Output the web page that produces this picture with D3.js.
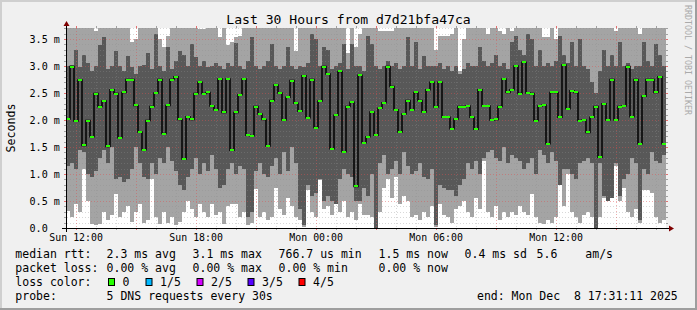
<!DOCTYPE html>
<html>
<head>
<meta charset="utf-8">
<script src="https://cdn.jsdelivr.net/npm/d3@7"></script>
<style>
html, body { margin: 0; padding: 0; background: #f0f0f0; }
svg { display: block; }
text { font-family: "DejaVu Sans Mono", monospace; white-space: pre; fill: #000; }
</style>
</head>
<body>
<svg id="chart" width="697" height="310"></svg>
<script>
// one entry per 12 minute column, values in ms
var medianRtt = [
  2.02, 2.99, 1.98, 2.74, 1.53, 1.99, 1.69, 2.49, 2.25, 2.35,
  1.51, 2.56, 2.49, 1.67, 2.51, 2.75, 2.75, 2.27, 1.78, 1.45,
  1.99, 2.25, 2.50, 2.75, 1.75, 2.27, 2.75, 2.80, 2.01, 1.28,
  2.06, 2.01, 2.49, 2.70, 2.49, 2.51, 2.26, 2.19,
  2.76, 2.14, 2.76, 1.44, 2.14, 2.47, 2.76, 1.72, 1.71, 2.25,
  2.11, 2.01, 1.52, 2.36, 2.65, 2.50, 2.00, 2.42, 2.73, 2.31,
  2.16, 2.82, 2.04, 2.75, 1.86, 2.35, 2.99, 2.85, 1.47, 2.09,
  2.90, 1.41, 2.25, 2.33, 0.77, 2.83, 1.58,
  1.69, 2.15, 1.72, 2.22, 2.32, 2.99, 2.62, 2.19, 1.78, 2.11,
  2.36, 2.19, 2.51, 2.36, 2.15, 2.56, 2.70, 2.24, 2.70, 2.05,
  2.05, 1.84, 2.02, 2.25, 2.25, 2.26, 2.05, 1.83, 2.56, 2.26,
  2.26, 2.00, 2.01, 2.25, 2.76, 2.51, 2.56, 3.00,
  2.49, 3.07, 2.50, 2.49, 1.99, 2.26, 2.28, 1.56, 2.51, 2.51,
  2.05, 3.02, 2.21, 2.54, 2.51, 1.99, 2.00, 1.77, 2.05, 2.25,
  1.31, 2.30, 2.00, 2.75, 2.00, 2.25, 2.26, 2.99, 2.06, 2.75,
  1.56, 2.44, 2.75, 2.75, 2.51, 2.80, 1.56
];
// smallest ping of the 5
var pingMin = [
  0.32, 0.2, 0.45, 0.3, 1.1, 0.5, 0.07, 0.05, 0.08, 0.3,
  0.15, 0.25, 0.63, 0.2, 0.3, 0.4, 0.12, 0.3, 0.45, 0.1,
  0.15, 0.9, 0.2, 0.08, 0.3, 0.1, 0.2, 0.05, 0.12, 0.3,
  0.5, 0.35, 0.2, 0.45, 0.3, 0.2, 0.45, 0.25,
  0.3, 0.07, 0.4, 0.45, 0.45, 0.2, 0.3, 0.05, 0.1, 0.72,
  0.2, 0.3, 0.15, 0.2, 0.75, 0.35, 0.25, 0.55, 0.4, 0.2,
  0.15, 0.02, 0.7, 0.3, 0.2, 0.88, 0.35, 0.4, 0.25, 0.45,
  0.3, 0.5, 0.2, 0.3, 0.15, 0.45, 0.25,
  0.25, 0.2, 0.0, 0.3, 0.75, 0.9, 0.55, 0.95, 0.45, 0.6,
  0.5, 0.2, 0.25, 0.15, 0.3, 0.2, 0.4, 0.02, 0.45, 0.25,
  0.2, 0.1, 0.35, 0.4, 0.5, 0.3, 0.2, 0.55, 0.35, 1.25,
  0.3, 0.2, 0.4, 0.15, 0.3, 0.2, 0.3, 0.25,
  0.4, 0.3, 0.25, 0.63, 0.2, 0.1, 0.07, 0.15, 0.1, 0.2,
  0.8, 0.4, 1.0, 0.3, 0.2, 0.1, 0.25, 0.3, 0.2, 0.0,
  0.2, 0.55, 0.5, 0.55, 1.15, 0.5, 0.75, 0.3, 0.2, 0.35,
  0.1, 0.7, 0.7, 0.65, 0.2, 0.1, 0.15
];
// second ping
var pingLow = [
  1.15, 1.2, 1.1, 1.45, 1.4, 1.0, 0.95, 1.05, 1.3, 1.45,
  1.2, 1.5, 0.9, 0.95, 0.85, 0.9, 1.1, 1.5, 1.2, 0.95,
  0.9, 1.2, 1.0, 1.3, 1.2, 1.5, 1.25, 1.05, 0.8, 0.7,
  0.95, 1.1, 1.3, 1.0, 1.2, 1.05, 1.35, 1.1,
  0.75, 0.8, 1.1, 1.2, 1.0, 1.15, 1.1, 0.2, 0.3, 1.05,
  1.2, 1.0, 0.95, 1.15, 1.3, 1.0, 1.4, 1.05, 1.5, 1.2,
  0.35, 0.05, 0.8, 0.6, 0.65, 0.9, 0.5, 0.6, 0.5, 0.45,
  0.9, 1.1, 1.0, 0.95, 0.5, 0.5, 0.75,
  0.6, 1.0, 0.0, 1.2, 1.35, 1.0, 1.1, 1.25, 1.0, 1.4,
  1.15, 1.0, 1.05, 1.2, 0.95, 0.9, 1.1, 0.05, 0.8, 0.75,
  0.7, 0.7, 0.6, 0.8, 0.9, 1.2, 1.1, 1.25, 1.0, 1.3,
  1.4, 1.45, 1.3, 1.25, 1.5, 1.2, 1.35, 1.3,
  1.25, 1.1, 1.2, 1.3, 1.0, 1.45, 1.35, 1.2, 1.4, 1.25,
  0.8, 1.1, 1.1, 1.0, 0.9, 1.2, 1.25, 1.3, 1.2, 0.0,
  1.2, 0.6, 0.5, 0.55, 1.2, 0.6, 0.9, 1.0, 1.3, 1.2,
  0.15, 1.1, 1.0, 1.4, 1.25, 1.2, 1.35
];
// fourth ping
var pingHigh = [
  3.0, 3.02, 3.3, 2.98, 3.2, 3.05, 2.9, 3.0, 3.38, 3.53,
  2.95, 3.0, 3.28, 3.0, 2.9, 3.19, 2.98, 2.85, 3.0, 3.02,
  3.25, 2.95, 3.59, 3.0, 2.9, 3.35, 2.95, 3.1, 3.28, 3.2,
  3.0, 3.4, 3.16, 3.0, 3.1, 2.98, 3.0, 3.05,
  3.0, 2.95, 3.05, 3.0, 3.43, 3.0, 2.95, 3.1, 3.53, 3.0,
  2.95, 3.0, 3.1, 3.4, 3.0, 2.95, 3.0, 3.35, 3.0, 2.95,
  3.0, 2.98, 3.05, 3.6, 3.5, 3.0, 3.35, 3.3, 2.95, 3.0,
  3.05, 3.4, 2.95, 3.4, 3.0, 3.0, 2.9,
  3.55, 3.4, 3.0, 2.95, 3.0, 3.1, 3.0, 3.05, 2.95, 3.0,
  3.53, 3.0, 3.45, 2.95, 3.19, 3.0, 3.0, 3.0, 3.05, 2.95,
  3.0, 2.9, 3.0, 2.85, 2.95, 3.05, 3.0, 3.0, 3.35, 3.1,
  3.0, 3.05, 3.2, 3.0, 3.05, 2.95, 3.45, 3.55,
  3.3, 3.2, 3.6, 3.5, 3.0, 3.3, 3.0, 3.05, 3.0, 3.1,
  3.55, 3.2, 3.05, 3.45, 3.0, 3.5, 3.0, 2.95, 2.7, 2.5,
  2.9, 3.3, 3.0, 3.2, 3.0, 3.45, 3.0, 3.05, 2.95, 3.0,
  3.0, 3.45, 3.1, 3.0, 3.4, 3.2, 3.0
];
// largest ping (above 3.7 is cut off)
var pingMax = [
  3.9, 3.9, 3.9, 3.9, 3.9, 3.9, 3.9, 3.65, 3.8, 3.9,
  3.9, 3.9, 3.9, 3.9, 3.9, 3.9, 3.44, 3.5, 3.9, 3.9,
  3.9, 3.9, 3.9, 3.5, 3.35, 3.55, 3.9, 3.9, 3.9, 3.9,
  3.9, 3.9, 3.9, 3.68, 3.68, 3.9, 3.7, 3.9,
  3.53, 3.9, 3.38, 3.45, 3.53, 3.55, 3.9, 3.9, 3.9, 3.9,
  3.9, 3.9, 3.9, 3.9, 3.9, 3.9, 3.9, 3.9, 3.9, 3.28,
  3.9, 3.9, 3.9, 3.9, 3.9, 3.9, 3.9, 3.9, 3.9, 3.9,
  3.9, 3.9, 3.25, 3.9, 3.35, 3.6, 3.75,
  3.9, 3.9, 3.9, 3.65, 3.65, 3.65, 3.65, 3.9, 3.9, 3.9,
  3.9, 3.9, 3.9, 3.9, 3.9, 3.9, 3.9, 3.3, 3.55, 3.55,
  3.55, 3.6, 3.9, 2.9, 3.5, 3.9, 3.9, 3.9, 3.9, 3.9,
  3.6, 3.9, 3.9, 3.65, 3.6, 3.7, 3.65, 3.9,
  3.9, 3.9, 3.9, 3.9, 3.9, 3.9, 3.53, 3.53, 3.9, 3.5,
  3.9, 3.9, 3.9, 3.9, 3.9, 3.9, 3.9, 3.9, 3.9, 3.9,
  3.9, 3.9, 3.9, 3.9, 3.65, 3.9, 3.9, 3.9, 3.9, 3.9,
  3.6, 3.9, 3.9, 3.9, 3.9, 3.9, 3.9
];

var yTicks = [0, 0.5, 1.0, 1.5, 2.0, 2.5, 3.0, 3.5];
var yTickLabels = ["0.0", "0.5 m", "1.0 m", "1.5 m", "2.0 m", "2.5 m", "3.0 m", "3.5 m"];
var xTickLabels = ["Sun 12:00", "Sun 18:00", "Mon 00:00", "Mon 06:00", "Mon 12:00"];

var rttStats = ["2.3 ms avg", "3.1 ms max", "766.7 us min", "1.5 ms now", "0.4 ms sd", "5.6", "am/s"];
var lossStats = ["0.00 % avg", "0.00 % max", "0.00 % min", "0.00 % now"];
var lossLabels = ["0", "1/5", "2/5", "3/5", "4/5"];
var lossColors = ["#26ff00", "#00b8ff", "#d400ff", "#5500ff", "#ff0000"];

////////////////////////////////////////////////////////////////////////////////

var svg = d3.select("#chart");
var W = 697, H = 310;
var plot = {left: 66, right: 666, top: 28, bottom: 228};

var endTime = new Date(2025, 11, 8, 17, 31, 11);
var startTime = d3.timeHour.offset(endTime, -30);

var x = d3.scaleTime().domain([startTime, endTime]).range([plot.left, plot.right]);
var y = d3.scaleLinear().domain([0, 3.704]).range([plot.bottom, plot.top]);

var stepMin = 30 * 60 / medianRtt.length;
var cols = medianRtt.map(function(m, i) {
  return {
    t0: d3.timeMinute.offset(startTime, i * stepMin),
    t1: d3.timeMinute.offset(startTime, (i + 1) * stepMin),
    med: m, p1: pingMin[i], p2: pingLow[i], p4: pingHigh[i], p5: pingMax[i]
  };
});

// background with 3d border
svg.append("rect").attr("width", W).attr("height", H).attr("fill", "#f0f0f0");
svg.append("path").attr("d", "M0,0H697V2H2V310H0Z").attr("fill", "#cfcfcf");
svg.append("path").attr("d", "M697,0V310H0V308H695V0Z").attr("fill", "#9e9e9e");

svg.append("rect")
  .attr("x", plot.left).attr("y", plot.top)
  .attr("width", plot.right - plot.left).attr("height", plot.bottom - plot.top)
  .attr("fill", "#fff");

svg.append("clipPath").attr("id", "plotClip")
  .append("rect")
  .attr("x", plot.left).attr("y", plot.top)
  .attr("width", plot.right - plot.left).attr("height", plot.bottom - plot.top);

// smoke: outer band p1..p5, inner band p2..p4
var smoke = svg.append("g").attr("clip-path", "url(#plotClip)").attr("shape-rendering", "crispEdges");

smoke.selectAll("rect.outer").data(cols).enter().append("rect")
  .attr("class", "outer")
  .attr("x", function(d) { return x(d.t0); })
  .attr("width", function(d) { return x(d.t1) - x(d.t0); })
  .attr("y", function(d) { return y(d.p5); })
  .attr("height", function(d) { return y(d.p1) - y(d.p5); })
  .attr("fill", "#a4a4a4");

smoke.selectAll("rect.inner").data(cols).enter().append("rect")
  .attr("class", "inner")
  .attr("x", function(d) { return x(d.t0); })
  .attr("width", function(d) { return x(d.t1) - x(d.t0); })
  .attr("y", function(d) { return y(d.p4); })
  .attr("height", function(d) { return y(d.p2) - y(d.p4); })
  .attr("fill", "#585858");

// grid
var grid = svg.append("g").attr("shape-rendering", "crispEdges");
var minorY = d3.range(1, 38).map(function(i) { return i / 10; }).filter(function(v, i) { return (i + 1) % 5 != 0; });
var majorY = yTicks.filter(function(v) { return v > 0; });
var hours = x.ticks(d3.timeHour.every(1));
var minorX = hours.filter(function(d) { return d.getHours() % 3 != 0; });
var majorX = hours.filter(function(d) { return d.getHours() % 3 == 0; });

function hLines(vals, color, op) {
  vals.forEach(function(v) {
    var yy = Math.round(y(v)) + 0.5;
    grid.append("line").attr("x1", plot.left + 1).attr("x2", plot.right).attr("y1", yy).attr("y2", yy)
      .attr("stroke", color).attr("stroke-opacity", op).attr("stroke-dasharray", "1,2");
    grid.append("line").attr("x1", plot.left - 2).attr("x2", plot.left).attr("y1", yy).attr("y2", yy)
      .attr("stroke", color).attr("stroke-opacity", 0.8);
    grid.append("line").attr("x1", plot.right).attr("x2", plot.right + 2).attr("y1", yy).attr("y2", yy)
      .attr("stroke", color).attr("stroke-opacity", 0.8);
  });
}
function vLines(vals, color, op) {
  vals.forEach(function(t) {
    var xx = Math.round(x(t)) + 0.5;
    grid.append("line").attr("x1", xx).attr("x2", xx).attr("y1", plot.top).attr("y2", plot.bottom)
      .attr("stroke", color).attr("stroke-opacity", op).attr("stroke-dasharray", "1,2");
    grid.append("line").attr("x1", xx).attr("x2", xx).attr("y1", plot.bottom).attr("y2", plot.bottom + 2)
      .attr("stroke", color).attr("stroke-opacity", 0.8);
    grid.append("line").attr("x1", xx).attr("x2", xx).attr("y1", plot.top - 2).attr("y2", plot.top)
      .attr("stroke", color).attr("stroke-opacity", 0.8);
  });
}
hLines(minorY, "#8f8f8f", 0.35);
vLines(minorX, "#8f8f8f", 0.35);
hLines(majorY, "#de5050", 0.45);
vLines(majorX, "#de5050", 0.45);

// median: step line plus loss coloured marks
var medLine = d3.line()
  .x(function(d) { return x(d[0]); })
  .y(function(d) { return y(d[1]); })
  .curve(d3.curveStepAfter);
var medPts = cols.map(function(d) { return [d.t0, d.med]; });
medPts.push([endTime, cols[cols.length - 1].med]);

var med = svg.append("g").attr("clip-path", "url(#plotClip)");
med.append("path").datum(medPts)
  .attr("d", medLine)
  .attr("fill", "none").attr("stroke", "#000").attr("stroke-width", 1.5);

med.selectAll("rect.loss").data(cols).enter().append("rect")
  .attr("class", "loss")
  .attr("shape-rendering", "crispEdges")
  .attr("x", function(d) { return x(d.t0); })
  .attr("width", function(d) { return x(d.t1) - x(d.t0); })
  .attr("y", function(d) { return y(d.med) - 1; })
  .attr("height", 2)
  .attr("fill", lossColors[0]);

// axes
var axes = svg.append("g").attr("shape-rendering", "crispEdges");
axes.append("line").attr("x1", plot.left - 4).attr("x2", plot.right + 3)
  .attr("y1", plot.bottom + 0.5).attr("y2", plot.bottom + 0.5).attr("stroke", "#000");
axes.append("line").attr("x1", plot.left + 0.5).attr("x2", plot.left + 0.5)
  .attr("y1", plot.bottom + 4).attr("y2", plot.top - 4).attr("stroke", "#000");
svg.append("path").attr("fill", "#7f0000")
  .attr("d", "M" + (plot.left + 0.5) + "," + (plot.top - 7) + "L" + (plot.left + 3.5) + "," + (plot.top - 2) + "L" + (plot.left - 2.5) + "," + (plot.top - 2) + "Z");
svg.append("path").attr("fill", "#7f0000")
  .attr("d", "M" + (plot.right + 8) + "," + (plot.bottom + 0.5) + "L" + (plot.right + 3) + "," + (plot.bottom + 3.5) + "L" + (plot.right + 3) + "," + (plot.bottom - 2.5) + "Z");

// x labels
var xAxis = d3.axisBottom(x)
  .tickValues(x.ticks(d3.timeHour.every(6)))
  .tickSize(0)
  .tickFormat(function(d, i) { return xTickLabels[i]; });
var gx = svg.append("g").attr("transform", "translate(0," + plot.bottom + ")").call(xAxis);
gx.select(".domain").remove();
gx.attr("font-family", null).attr("font-size", null);
gx.selectAll("text").attr("y", 12.6).attr("dy", null)
  .style("font-size", "9.9px").attr("fill", "#000");

// y labels
svg.append("g").selectAll("text").data(yTicks).enter().append("text")
  .attr("x", 29.5)
  .attr("y", function(d) { return Math.round(y(d)) + 4; })
  .style("font-size", "10.1px")
  .text(function(d, i) { return yTickLabels[i]; });

svg.append("text")
  .attr("transform", "translate(14.5," + ((plot.top + plot.bottom) / 2) + ") rotate(-90)")
  .attr("text-anchor", "middle")
  .style("font-size", "11.6px")
  .text("Seconds");

// title
svg.append("text").attr("x", 348.5).attr("y", 24)
  .attr("text-anchor", "middle")
  .style("font-size", "13.1px")
  .text("Last 30 Hours from d7d21bfa47ca");

// watermark
svg.append("text")
  .attr("transform", "translate(685,5) rotate(90)")
  .style("font-size", "8.3px").style("fill", "#aaaaaa")
  .text("RRDTOOL / TOBI OETIKER");

// legend
var legend = svg.append("g").style("font-size", "11.5px");
var rowY = [257.5, 271.5, 285.5, 299.5];

legend.append("text").attr("x", 15.3).attr("y", rowY[0]).text("median rtt:");
var rttX = [106.6, 192.6, 278.6, 378.6, 464.6, 536.6, 585.3];
rttStats.forEach(function(s, i) {
  legend.append("text").attr("x", rttX[i]).attr("y", rowY[0]).text(s);
});

legend.append("text").attr("x", 15.3).attr("y", rowY[1]).text("packet loss:");
lossStats.forEach(function(s, i) {
  legend.append("text").attr("x", rttX[i]).attr("y", rowY[1]).text(s);
});

legend.append("text").attr("x", 15.3).attr("y", rowY[2]).text("loss color:");
var boxX = [108, 145.5, 196.5, 247.5, 298.5];
lossLabels.forEach(function(s, i) {
  legend.append("rect")
    .attr("x", boxX[i] + 0.5).attr("y", 278.5).attr("width", 6).attr("height", 7)
    .attr("fill", lossColors[i]).attr("stroke", "#000");
  legend.append("text").attr("x", boxX[i] + 14.6).attr("y", rowY[2]).text(s);
});

legend.append("text").attr("x", 15.3).attr("y", rowY[3]).text("probe:");
legend.append("text").attr("x", 106.6).attr("y", rowY[3]).text("5 DNS requests every 30s");
legend.append("text").attr("x", 477).attr("y", rowY[3]).text("end: Mon Dec  8 17:31:11 2025");
</script>
</body>
</html>
